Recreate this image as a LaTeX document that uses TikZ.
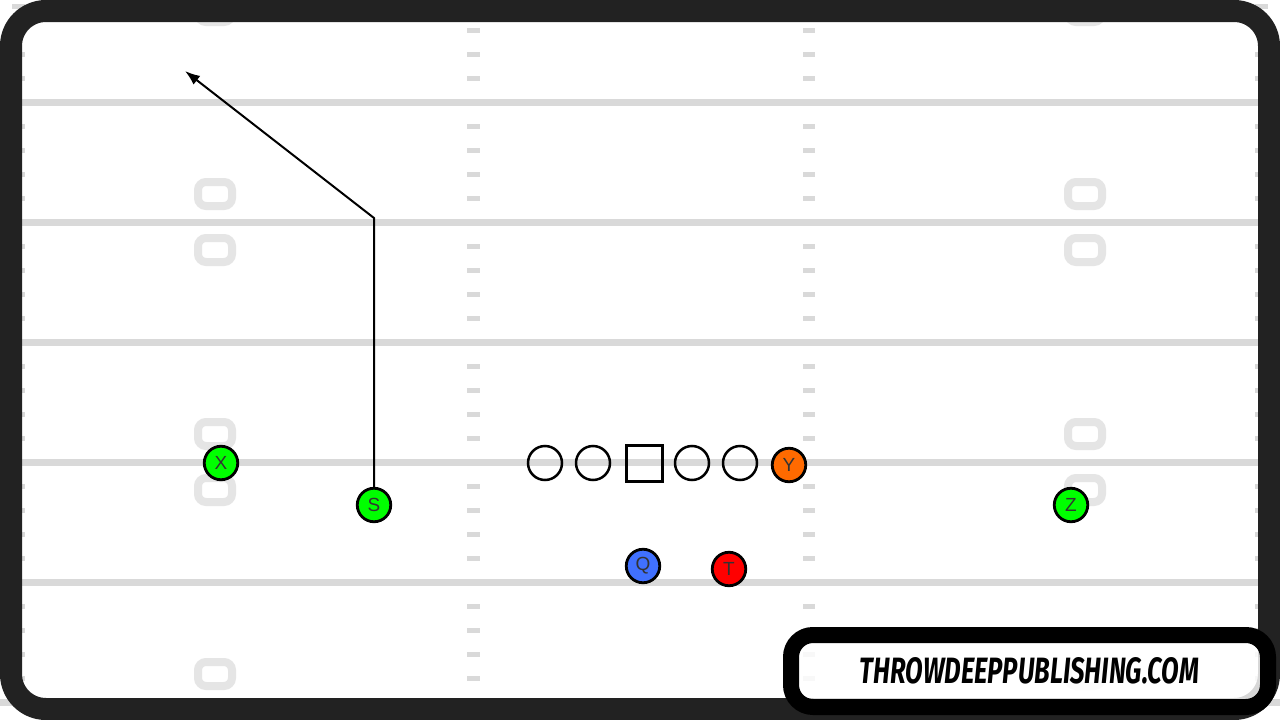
\documentclass[tikz,border=0pt]{standalone}
\usepackage{fontspec}
\setmainfont{Liberation Sans}
\newfontfamily\logofont{Fira Sans}
\usetikzlibrary{arrows.meta}
\definecolor{framegray}{RGB}{34,34,34}
\definecolor{yardgray}{RGB}{217,217,217}
\definecolor{numgray}{RGB}{229,229,229}
\definecolor{wrgreen}{RGB}{0,255,0}
\definecolor{teorange}{RGB}{255,106,0}
\definecolor{qbblue}{RGB}{64,112,255}
\definecolor{tbred}{RGB}{255,0,0}
\definecolor{lettergray}{RGB}{51,51,51}
\begin{document}
\begin{tikzpicture}[x=1pt,y=-1pt,
    player/.style={circle, draw, line width=2.8pt, minimum size=33.5pt,
      inner sep=0pt, font=\fontsize{19}{19}\selectfont, text=lettergray},
    lineman/.style={circle, draw, line width=2.5pt, minimum size=34pt, inner sep=0pt},
    center/.style={rectangle, draw, line width=3pt, minimum size=36pt, inner sep=0pt},
    yardline/.style={yardgray, line width=7pt},
    hashmark/.style={fill=yardgray},
    yardnum/.style={draw=numgray, line width=8pt, rounded corners=8pt},
    route/.style={line width=2pt, -{Latex[length=15pt,width=11pt]}}]
    \useasboundingbox (0,0) rectangle (1280,720);
    \fill[white] (0,0) rectangle (1280,720);
    % yard lines and hashes
    \foreach \k in {0,...,6} \draw[yardline] (0,{-18+120*\k}) -- (1280,{-18+120*\k});
    \foreach \k in {0,...,5} \foreach \j in {1,...,4} {
      \fill[hashmark] (467,{-18+120*\k+24*\j-2.5}) rectangle (480,{-18+120*\k+24*\j+2.5});
      \fill[hashmark] (803,{-18+120*\k+24*\j-2.5}) rectangle (815,{-18+120*\k+24*\j+2.5});
      \fill[hashmark] (12,{-18+120*\k+24*\j-2.5}) rectangle (25,{-18+120*\k+24*\j+2.5});
      \fill[hashmark] (1255,{-18+120*\k+24*\j-2.5}) rectangle (1268,{-18+120*\k+24*\j+2.5});
    }
    % yard numbers
    \foreach \yy in {-18,222,462,702} \foreach \xx in {215,1085} {
      \draw[yardnum] (\xx-17,\yy-40) rectangle (\xx+17,\yy-16);
      \draw[yardnum] (\xx-17,\yy+16) rectangle (\xx+17,\yy+40);
    }
    % offense
    \node (lt) at (545,463) [lineman] {};
    \node (lg) at (593,463) [lineman] {};
    \node (c) at (644,463) [center] {};
    \node (rg) at (692,463) [lineman] {};
    \node (rt) at (740,463) [lineman] {};
    \node (y) at (789,465) [player, fill=teorange] {Y};
    \node (x) at (221,463) [player, fill=wrgreen] {X};
    \node (s) at (374,505) [player, fill=wrgreen] {S};
    \node (z) at (1071,505) [player, fill=wrgreen] {Z};
    \node (q) at (643,566) [player, fill=qbblue] {Q};
    \node (t) at (729,569) [player, fill=tbred] {T};
    % route
    \coordinate (brk) at (374,218); \coordinate (tip) at (185,71);
    \draw[route] (s) -- (brk) -- (tip);
    % frame
    \draw[framegray, line width=22pt, rounded corners=35pt] (11,11) rectangle (1269,709);
    % logo
    \node (logo) at (1029.5,671) [draw=black, line width=16pt, rounded corners=22pt,
      minimum width=477pt, minimum height=72pt, fill=white, fill opacity=0.82,
      text opacity=1, inner sep=0pt]
      {\resizebox{339pt}{26pt}{\logofont\bfseries\itshape THROWDEEPPUBLISHING.COM}};
  \end{tikzpicture}
\end{document}
